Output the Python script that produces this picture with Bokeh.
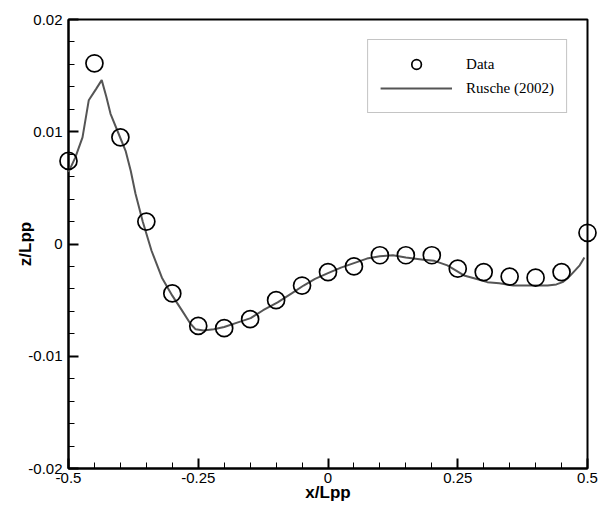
from bokeh.plotting import figure
from bokeh.models import Range1d, FixedTicker, Legend, LegendItem
from bokeh.embed import file_html
from bokeh.resources import INLINE

# Measured data (circles)
data_x = [-0.5, -0.45, -0.4, -0.35, -0.3, -0.25, -0.2, -0.15, -0.1, -0.05, 0.0,
          0.05, 0.1, 0.15, 0.2, 0.25, 0.3, 0.35, 0.4, 0.45, 0.5]
data_z = [0.0074, 0.0161, 0.0095, 0.0020, -0.0044, -0.0073, -0.0075, -0.0067, -0.0050,
          -0.0037, -0.0025, -0.0020, -0.0010, -0.0010, -0.0010, -0.0022, -0.0025,
          -0.0029, -0.0030, -0.0025, 0.0010]

# Rusche (2002) curve
rusche_x = [-0.5, -0.487, -0.473, -0.461, -0.447, -0.436, -0.427, -0.419, -0.405, -0.390,
            -0.380, -0.371, -0.357, -0.34, -0.32, -0.30, -0.283, -0.265, -0.255, -0.24,
            -0.22, -0.2, -0.175, -0.149, -0.125, -0.097, -0.07, -0.047, -0.025, 0.0,
            0.025, 0.05, 0.075, 0.1, 0.125, 0.15, 0.184, 0.205, 0.23, 0.262, 0.285,
            0.307, 0.33, 0.357, 0.39, 0.423, 0.44, 0.452, 0.463, 0.473, 0.485, 0.494]
rusche_z = [0.0064, 0.0077, 0.0095, 0.0128, 0.0138, 0.0146, 0.0131, 0.0116, 0.0100, 0.0083,
            0.0065, 0.0045, 0.0020, -0.0006, -0.0030, -0.0046, -0.0058, -0.0071, -0.0076, -0.0077,
            -0.0076, -0.0074, -0.0070, -0.0066, -0.0059, -0.0052, -0.0044, -0.0037, -0.0031, -0.0026,
            -0.0021, -0.0017, -0.0013, -0.0011, -0.0010, -0.0012, -0.0014, -0.0015, -0.0019, -0.0028,
            -0.0031, -0.0034, -0.0035, -0.0037, -0.0037, -0.0037, -0.0036, -0.0034, -0.0030, -0.0025,
            -0.0019, -0.0012]

x_ticks = [-0.5, -0.25, 0.0, 0.25, 0.5]
x_tick_labels = ["-0.5", "-0.25", "0", "0.25", "0.5"]
x_minor = [round(-0.5 + 0.05 * i, 3) for i in range(21)]
y_ticks = [-0.02, -0.01, 0.0, 0.01, 0.02]
y_tick_labels = ["-0.02", "-0.01", "0", "0.01", "0.02"]
y_minor = [round(-0.02 + 0.002 * i, 4) for i in range(21)]

p = figure(width=605, height=507, output_backend="svg", toolbar_location=None,
           x_range=Range1d(-0.5, 0.5), y_range=Range1d(-0.02, 0.02),
           min_border_left=68, min_border_right=18, min_border_top=19, min_border_bottom=39)
p.background_fill_color = "white"
p.border_fill_color = "white"
p.xgrid.visible = False
p.ygrid.visible = False
p.outline_line_color = "black"
p.outline_line_width = 2
p.outline_line_alpha = 1

line_r = p.line(rusche_x, rusche_z, line_color="#555555", line_width=2, level="overlay")
circ_r = p.scatter(data_x, data_z, marker="circle", size=17, fill_color=None,
                   line_color="black", line_width=1.7, level="overlay")

for ax, ticks, labels, minor in ((p.xaxis[0], x_ticks, x_tick_labels, x_minor),
                                  (p.yaxis[0], y_ticks, y_tick_labels, y_minor)):
    ax.ticker = FixedTicker(ticks=ticks, minor_ticks=minor)
    ax.major_label_overrides = {t: l for t, l in zip(ticks, labels)}
    ax.axis_line_width = 2
    ax.axis_line_color = "black"
    ax.major_tick_in = 10
    ax.major_tick_out = 0
    ax.minor_tick_in = 6
    ax.minor_tick_out = 0
    ax.major_tick_line_width = 2
    ax.minor_tick_line_width = 1
    ax.major_label_text_font = "Liberation Sans"
    ax.major_label_text_font_size = "15px"
    ax.major_label_text_color = "black"
    ax.axis_label_text_font = "Liberation Sans"
    ax.axis_label_text_font_size = "17px"
    ax.axis_label_text_font_style = "bold"
    ax.axis_label_text_color = "black"

p.xaxis.axis_label = "x/Lpp"
p.yaxis.axis_label = "z/Lpp"
p.xaxis.major_label_standoff = 4
p.xaxis.axis_label_standoff = -3
p.yaxis.major_label_standoff = 6
p.yaxis.axis_label_standoff = -10

legend = Legend(items=[LegendItem(label="Data", renderers=[circ_r]),
                       LegendItem(label="Rusche (2002)", renderers=[line_r])],
                location="top_right", margin=20, padding=12, spacing=0,
                glyph_width=72, glyph_height=24, label_height=20, label_standoff=14,
                label_text_font="Liberation Serif", label_text_font_size="15px",
                label_text_color="black",
                border_line_color="#8a8a8a", border_line_width=1,
                background_fill_color="white", background_fill_alpha=1)
p.add_layout(legend)

open("out.html", "w").write(file_html(p, INLINE))
